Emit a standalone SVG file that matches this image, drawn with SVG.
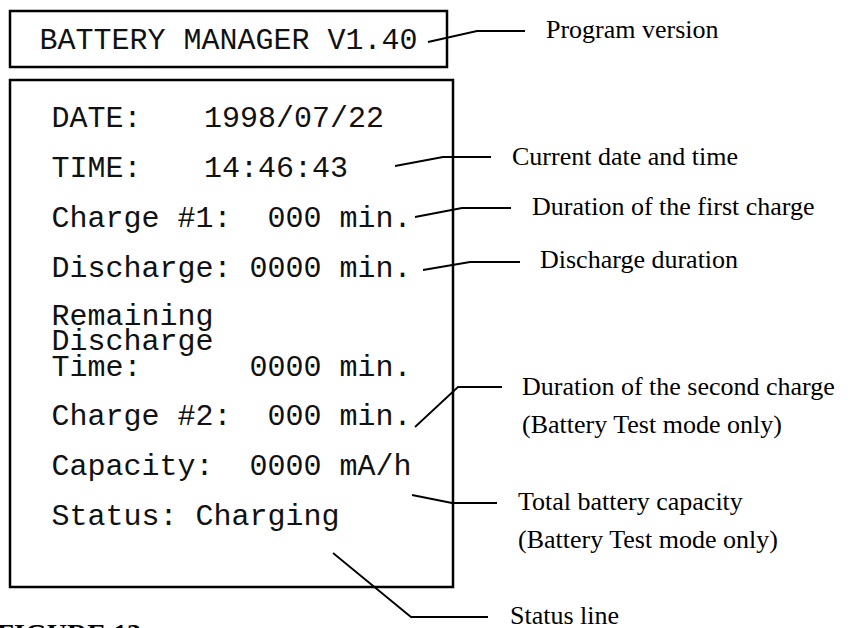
<svg xmlns="http://www.w3.org/2000/svg" width="850" height="628" viewBox="0 0 850 628">
<style>
.box{fill:none;stroke:#000;stroke-width:2.5}
.mono{font-family:"Liberation Mono","Courier New",monospace;font-size:30px;fill:#111;white-space:pre}
.lbl{font-family:"Liberation Serif","Times New Roman",serif;font-size:26px;fill:#000}
.fig{font-family:"Liberation Serif","Times New Roman",serif;font-size:28px;font-weight:bold;fill:#000}
.ld{fill:none;stroke:#000;stroke-width:1.8}
</style>
<rect width="850" height="628" fill="#fff"/>
<g id="version-box">
<rect class="box" x="10" y="11" width="437" height="56"/>
<text class="mono" x="39.5" y="49">BATTERY MANAGER V1.40</text>
</g>
<g id="screen">
<rect class="box" x="10" y="80" width="443" height="507"/>
<text class="mono" x="51.5" y="127">DATE:</text>
<text class="mono" x="204" y="127">1998/07/22</text>
<text class="mono" x="51.5" y="177">TIME:</text>
<text class="mono" x="204" y="177">14:46:43</text>
<text class="mono" x="51.5" y="227">Charge #1:  000 min.</text>
<text class="mono" x="51.5" y="277">Discharge: 0000 min.</text>
<text class="mono" x="51.5" y="325">Remaining</text>
<text class="mono" x="51.5" y="350">Discharge</text>
<text class="mono" x="51.5" y="376">Time:      0000 min.</text>
<text class="mono" x="51.5" y="425">Charge #2:  000 min.</text>
<text class="mono" x="51.5" y="475">Capacity:  0000 mA/h</text>
<text class="mono" x="51.5" y="525">Status: Charging</text>
</g>
<g id="connectors">
<polyline class="ld" points="428,42 477,31 525,31"/>
<polyline class="ld" points="395,166 443,157 491,157"/>
<polyline class="ld" points="415,217 462,208 511,208"/>
<polyline class="ld" points="423,270 470,262 520,262"/>
<polyline class="ld" points="415,427 458,387 502,387"/>
<polyline class="ld" points="412,495 452,503 497,503"/>
<polyline class="ld" points="333,553 411,617 488,617"/>
</g>
<g id="label-version"><text class="lbl" x="546" y="38">Program version</text></g>
<g id="label-datetime"><text class="lbl" x="512" y="165">Current date and time</text></g>
<g id="label-charge1"><text class="lbl" x="532" y="215">Duration of the first charge</text></g>
<g id="label-discharge"><text class="lbl" x="540" y="268">Discharge duration</text></g>
<g id="label-charge2"><text class="lbl" x="522" y="395">Duration of the second charge</text><text class="lbl" x="522" y="433">(Battery Test mode only)</text></g>
<g id="label-capacity"><text class="lbl" x="518" y="510">Total battery capacity</text><text class="lbl" x="518" y="548">(Battery Test mode only)</text></g>
<g id="label-status"><text class="lbl" x="510" y="624">Status line</text></g>
<text class="fig" x="-3" y="643">FIGURE 13</text>
</svg>
